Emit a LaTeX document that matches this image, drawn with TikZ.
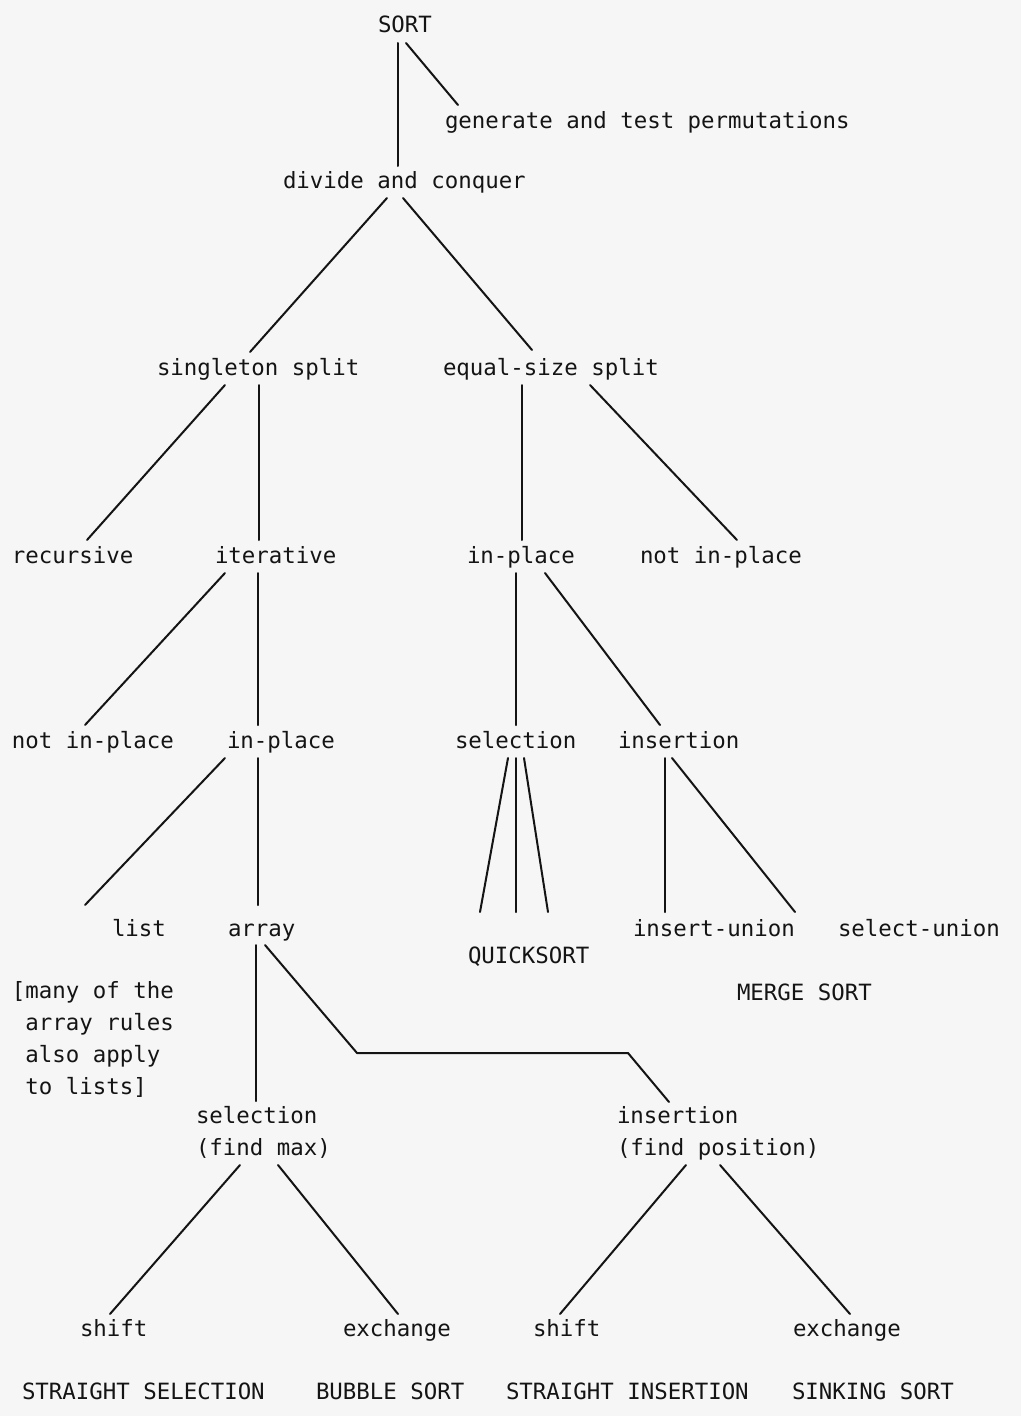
\documentclass[tikz,border=0pt]{standalone}
\usepackage{fontspec}
\setmonofont{DejaVu Sans Mono}
\definecolor{paper}{RGB}{246,246,246}
\definecolor{ink}{RGB}{20,20,20}
\tikzset{
  lbl/.style={anchor=base west, inner sep=0pt, outer sep=0pt, text=ink,
    font=\fontsize{22.4}{32}\selectfont\ttfamily},
  multi/.style={lbl, align=left},
  edge/.style={draw=ink, line width=2pt, line cap=round, line join=round},
}
\begin{document}
\begin{tikzpicture}[x=1pt,y=-1pt]
\fill[paper] (0,0) rectangle (1021,1416);
\useasboundingbox (0,0) rectangle (1021,1416);

% labels (multi-line nodes are placed by the baseline of their last line)
\node[lbl] (sort) at (378,32) {SORT};
\node[lbl] (gen)  at (445,128) {generate and test permutations};
\node[lbl] (div)  at (283,188) {divide and conquer};
\node[lbl] (sing) at (157,375) {singleton split};
\node[lbl] (eq)   at (443,375) {equal-size split};
\node[lbl] (rec)  at (12,563) {recursive};
\node[lbl] (iter) at (215,563) {iterative};
\node[lbl] (inR)  at (467,563) {in-place};
\node[lbl] (ninR) at (640,563) {not in-place};
\node[lbl] (ninL) at (12,748) {not in-place};
\node[lbl] (inL)  at (227,748) {in-place};
\node[lbl] (selQ) at (455,748) {selection};
\node[lbl] (insM) at (618,748) {insertion};
\node[lbl] (list) at (112,936) {list};
\node[lbl] (array) at (228,936) {array};
\node[lbl] (qs)   at (468,963) {QUICKSORT};
\node[lbl] (iu)   at (633,936) {insert-union};
\node[lbl] (su)   at (838,936) {select-union};
\node[lbl] (ms)   at (737,1000) {MERGE SORT};
\node[multi] (note) at (12,1094) {[many of the\\\phantom{[}array rules\\\phantom{[}also apply\\\phantom{[}to lists]};
\node[multi] (selM) at (196,1155) {selection\\(find max)};
\node[multi] (insP) at (617,1155) {insertion\\(find position)};
\node[lbl] (sh1) at (80,1336) {shift};
\node[lbl] (ex1) at (343,1336) {exchange};
\node[lbl] (sh2) at (533,1336) {shift};
\node[lbl] (ex2) at (793,1336) {exchange};
\node[lbl] (ss) at (22,1399) {STRAIGHT SELECTION};
\node[lbl] (bs) at (316,1399) {BUBBLE SORT};
\node[lbl] (si) at (506,1399) {STRAIGHT INSERTION};
\node[lbl] (sk) at (792,1399) {SINKING SORT};

% connectors
\draw[edge] ([shift={(20,11)}]sort.base west) -- ([shift={(115,-22)}]div.base west);
\draw[edge] ([shift={(28,11)}]sort.base west) -- ([shift={(13,-23)}]gen.base west);
\draw[edge] ([shift={(104,10)}]div.base west) -- ([shift={(93,-23)}]sing.base west);
\draw[edge] ([shift={(120,10)}]div.base west) -- ([shift={(89,-25)}]eq.base west);
\draw[edge] ([shift={(68,10)}]sing.base west) -- ([shift={(75,-23)}]rec.base west);
\draw[edge] ([shift={(102,10)}]sing.base west) -- ([shift={(44,-23)}]iter.base west);
\draw[edge] ([shift={(10,10)}]iter.base west) -- ([shift={(73,-23)}]ninL.base west);
\draw[edge] ([shift={(43,10)}]iter.base west) -- ([shift={(31,-23)}]inL.base west);
\draw[edge] ([shift={(-2,10)}]inL.base west) -- ([shift={(-27,-31)}]list.base west);
\draw[edge] ([shift={(31,10)}]inL.base west) -- ([shift={(30,-31)}]array.base west);
\draw[edge] ([shift={(28,9)}]array.base west) -- ([shift={(60,-54)}]selM.base west);
\draw[edge] ([shift={(37,9)}]array.base west) -- ++(92,108) -- ++(271,0) -- ([shift={(52,-53)}]insP.base west);
\draw[edge] ([shift={(79,10)}]eq.base west) -- ([shift={(55,-23)}]inR.base west);
\draw[edge] ([shift={(147,10)}]eq.base west) -- ([shift={(97,-23)}]ninR.base west);
\draw[edge] ([shift={(49,10)}]inR.base west) -- ([shift={(61,-23)}]selQ.base west);
\draw[edge] ([shift={(78,10)}]inR.base west) -- ([shift={(42,-23)}]insM.base west);
\draw[edge] ([shift={(53,10)}]selQ.base west) -- ([shift={(12,-51)}]qs.base west);
\draw[edge] ([shift={(61,10)}]selQ.base west) -- ([shift={(48,-51)}]qs.base west);
\draw[edge] ([shift={(69,10)}]selQ.base west) -- ([shift={(80,-51)}]qs.base west);
\draw[edge] ([shift={(47,10)}]insM.base west) -- ([shift={(32,-24)}]iu.base west);
\draw[edge] ([shift={(54,10)}]insM.base west) -- ([shift={(-43,-24)}]su.base west);
\draw[edge] ([shift={(44,10)}]selM.base west) -- ([shift={(30,-22)}]sh1.base west);
\draw[edge] ([shift={(82,10)}]selM.base west) -- ([shift={(55,-22)}]ex1.base west);
\draw[edge] ([shift={(69,10)}]insP.base west) -- ([shift={(27,-22)}]sh2.base west);
\draw[edge] ([shift={(103,10)}]insP.base west) -- ([shift={(57,-22)}]ex2.base west);
\end{tikzpicture}
\end{document}
